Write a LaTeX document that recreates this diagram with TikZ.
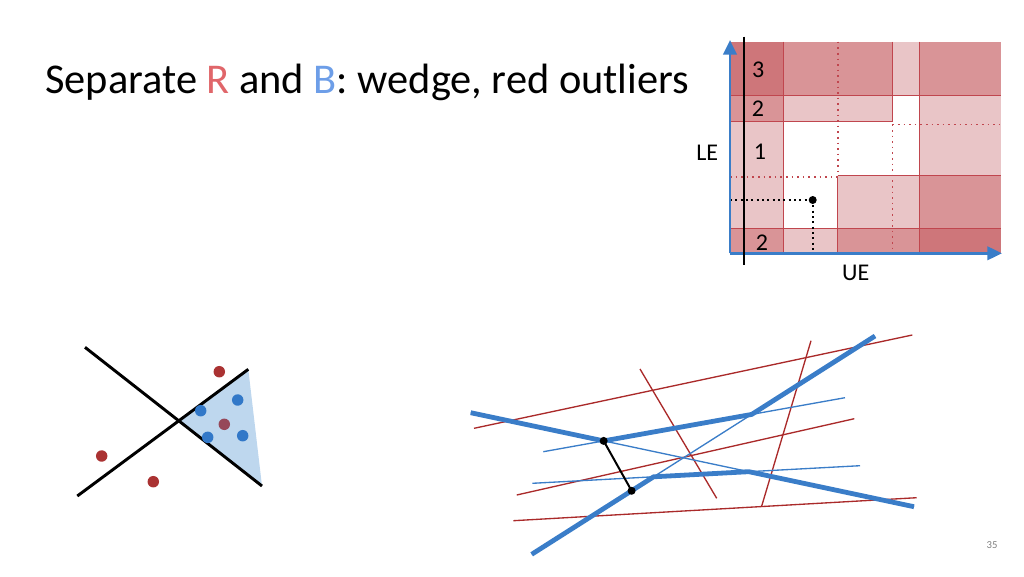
\documentclass[tikz,border=0pt]{standalone}
\usepackage{fontspec}
\setmainfont{Carlito}
\usetikzlibrary{arrows.meta,intersections,calc}
\definecolor{Lone}{RGB}{233,197,199}
\definecolor{Ltwo}{RGB}{217,148,151}
\definecolor{Lthree}{RGB}{206,118,122}
\definecolor{gridred}{RGB}{192,70,78}
\definecolor{axblue}{RGB}{58,125,200}
\definecolor{lnred}{RGB}{170,42,42}
\definecolor{lnblue}{RGB}{58,125,200}
\definecolor{dotred}{RGB}{170,50,50}
\definecolor{dotblue}{RGB}{50,120,200}
\definecolor{dotmix}{RGB}{150,72,90}
\definecolor{wfill}{RGB}{190,215,238}
\definecolor{titred}{RGB}{224,102,106}
\definecolor{titblue}{RGB}{109,158,232}
\tikzset{
  gline/.style={draw=gridred,line width=0.6pt},
  gdot/.style={draw=gridred,line width=1.2pt,dash pattern=on 1.2pt off 3pt},
  kdot/.style={draw=black,line width=1.4pt,dash pattern=on 1.4pt off 2.6pt},
  lbl/.style={font=\fontsize{18}{20}\selectfont,inner sep=0pt},
  pt/.style={circle,fill,inner sep=0pt,minimum size=8.6pt},
  bdot/.style={circle,fill=black,inner sep=0pt,minimum size=6pt},
  thinred/.style={draw=lnred,line width=1pt},
  thinblue/.style={draw=lnblue,line width=1pt},
  thickblue/.style={draw=lnblue,line width=3.6pt,line join=round},
  wline/.style={draw=black,line width=2.2pt},
  axis/.style={draw=axblue,line width=2.2pt,-{Triangle[length=11pt,width=10pt]}}
}
\begin{document}
\begin{tikzpicture}[x=0.75pt,y=-0.75pt]
\useasboundingbox (0,0) rectangle (1024,576);
% title
\node[anchor=base west,inner sep=0pt,font=\fontsize{31.8}{36}\selectfont] (title) at (45,93.5)
  {Separate \textcolor{titred}{R} and \textcolor{titblue}{B}: wedge, red outliers};
% grid cells
\def\xa{730}\def\xb{783.3}\def\xc{837.7}\def\xd{892.3}\def\xe{919}\def\xf{1000.7}
\def\ya{41.7}\def\yb{95.7}\def\yc{121.7}\def\yd{175.7}\def\ye{228.3}\def\yf{253.3}
% row 1
\fill[Lthree] (\xa,\ya) rectangle (\xb,\yb);
\fill[Ltwo] (\xb,\ya) rectangle (\xd,\yb);
\fill[Lone] (\xd,\ya) rectangle (\xe,\yb);
\fill[Ltwo] (\xe,\ya) rectangle (\xf,\yb);
% row 2
\fill[Ltwo] (\xa,\yb) rectangle (\xb,\yc);
\fill[Lone] (\xb,\yb) rectangle (\xd,\yc);
\fill[Lone] (\xe,\yb) rectangle (\xf,\yc);
% row 3
\fill[Lone] (\xa,\yc) rectangle (\xb,\yd);
\fill[Lone] (\xe,\yc) rectangle (\xf,\yd);
% row 4
\fill[Lone] (\xa,\yd) rectangle (\xb,\ye);
\fill[Lone] (\xc,\yd) rectangle (\xe,\ye);
\fill[Ltwo] (\xe,\yd) rectangle (\xf,\ye);
% row 5
\fill[Ltwo] (\xa,\ye) rectangle (\xb,\yf);
\fill[Lone] (\xb,\ye) rectangle (\xc,\yf);
\fill[Ltwo] (\xc,\ye) rectangle (\xe,\yf);
\fill[Lthree] (\xe,\ye) rectangle (\xf,\yf);
% solid grid lines
\path[gline] (\xa,\yb) -- (\xf,\yb);
\path[gline] (\xa,\yc) -- (\xd,\yc);
\path[gline] (\xd,\ya) -- (\xd,\yc);
\path[gline] (\xb,\ya) -- (\xb,\yf);
\path[gline] (\xe,\ya) -- (\xe,\yf);
\path[gline] (\xc,\yd) -- (\xc,\yf);
\path[gline] (\xc,\yd) -- (\xf,\yd);
\path[gline] (\xa,\ye) -- (\xf,\ye);
% dotted grid lines
\path[gdot] (\xd,124.3) -- (\xf,124.3);
\path[gdot] (\xd,124.3) -- (\xd,\yf);
\path[gdot] (\xc,\ya) -- (\xc,\yd);
\path[gdot] (\xa,176.7) -- (\xc,176.7);
% black dotted guides and point
\node[bdot] (q) at (812.7,200) {};
\coordinate (qx) at (\xa,200);
\coordinate (qy) at (812.7,\yf);
\draw[kdot] (qx) -- (q.center);
\draw[kdot] (q.center) -- (qy);
% axes
\coordinate (O) at (\xa,\yf);
\coordinate (Xend) at (1002,\yf);
\coordinate (Yend) at (\xa,40);
\draw[axis] (O) -- (Xend);
\draw[axis] (O) -- (Yend);
\coordinate (K1) at (744,36.7);
\coordinate (K2) at (744,265);
\draw[black,line width=1.6pt] (K1) -- (K2);
% labels
\node[lbl] (l3) at (758.3,69.3) {3};
\node[lbl] (l2a) at (758,109) {2};
\node[lbl] (l1) at (760,151.7) {1};
\node[lbl] (l2b) at (762,242.3) {2};
\node[lbl] (le) at (707.3,152.7) {LE};
\node[lbl] (ue) at (855.7,272.7) {UE};
% wedge
\coordinate (W1a) at (85,347.3);
\coordinate (W1b) at (262,486);
\coordinate (W2a) at (77.3,496);
\coordinate (W2b) at (248.3,369.3);
\path[name path=w1] (W1a) -- (W1b);
\path[name path=w2] (W2a) -- (W2b);
\path[name intersections={of=w1 and w2,by=WX}];
\fill[wfill] (WX) -- (W2b) -- (W1b) -- cycle;
\draw[wline] (W1a) -- (W1b);
\draw[wline] (W2a) -- (W2b);
\node[pt,fill=dotred] (r1) at (219.3,371.7) {};
\node[pt,fill=dotred] (r2) at (101.7,456) {};
\node[pt,fill=dotred] (r3) at (153.3,481.7) {};
\node[pt,fill=dotmix] (m1) at (224.3,424.3) {};
\node[pt,fill=dotblue] (b1) at (237.7,400) {};
\node[pt,fill=dotblue] (b2) at (200.7,410.7) {};
\node[pt,fill=dotblue] (b3) at (207.7,437.3) {};
\node[pt,fill=dotblue] (b4) at (242.7,435.7) {};
% line arrangement
\coordinate (A1) at (470.7,412.7); \coordinate (A2) at (914,506.7);
\coordinate (B1) at (531.7,554.3); \coordinate (B2) at (875,336);
\coordinate (C1) at (543.3,451.7); \coordinate (C2) at (845,397.7);
\coordinate (D1) at (532.3,483.3); \coordinate (D2) at (860,465.7);
\coordinate (R1a) at (474,428.3); \coordinate (R1b) at (912.3,335);
\coordinate (R2a) at (640,369); \coordinate (R2b) at (716.7,498.3);
\coordinate (R3a) at (811,340.7); \coordinate (R3b) at (761.7,506);
\coordinate (R4a) at (516.7,495); \coordinate (R4b) at (854.3,418.7);
\coordinate (R5a) at (513.3,520.7); \coordinate (R5b) at (916.7,497.7);
\draw[thinred] (R1a) -- (R1b);
\draw[thinred] (R2a) -- (R2b);
\draw[thinred] (R3a) -- (R3b);
\draw[thinred] (R4a) -- (R4b);
\draw[thinred] (R5a) -- (R5b);
\draw[thinblue,name path=lA] (A1) -- (A2);
\draw[thinblue,name path=lB] (B1) -- (B2);
\draw[thinblue,name path=lC] (C1) -- (C2);
\draw[thinblue,name path=lD] (D1) -- (D2);
\path[name intersections={of=lA and lC,by=PAC}];
\path[name intersections={of=lC and lB,by=PCB}];
\path[name intersections={of=lB and lD,by=PBD}];
\path[name intersections={of=lD and lA,by=PDA}];
\draw[thickblue] (A1) -- (PAC) -- (PCB) -- (B2);
\draw[thickblue] (B1) -- (PBD) -- (PDA) -- (A2);
\node[bdot] (P1) at (PAC) {};
\node[bdot] (P2) at ($(B1)!0.291!(B2)$) {};
\draw[black,line width=1.5pt] (P1.center) -- (P2.center);
% page number
\node[inner sep=0pt,text=gray,font=\fontsize{8}{9}\selectfont] (pg) at (992,545) {35};
\end{tikzpicture}
\end{document}
